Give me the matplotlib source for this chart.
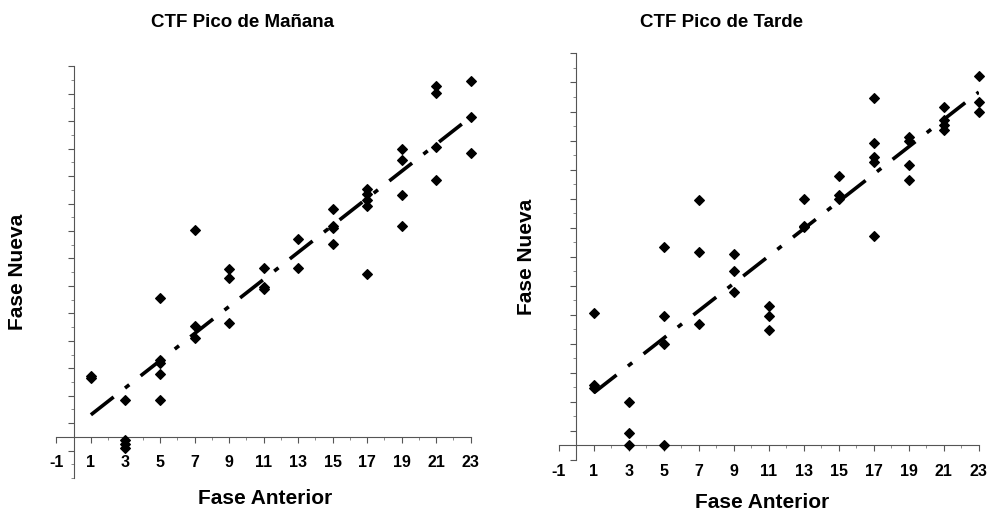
import numpy as np
import matplotlib.pyplot as plt
from matplotlib.ticker import MultipleLocator

plt.rcParams['font.family'] = ['Liberation Sans', 'DejaVu Sans']
plt.rcParams['font.weight'] = 'bold'

# Fase anterior (x) y fase nueva (y) para cada pico
x_manana = [1, 1, 3, 3, 3, 3, 5, 5, 5, 5, 5, 7, 7, 7, 9, 9, 9, 11, 11, 11,
            13, 13, 15, 15, 15, 15, 17, 17, 17, 17, 17, 19, 19, 19, 19,
            21, 21, 21, 21, 23, 23, 23]
y_manana = [4.4, 4.3, 2.65, -0.2, -0.5, -0.8, 10.15, 5.6, 5.4, 4.6, 2.65,
            15.1, 8.1, 7.2, 12.2, 11.55, 8.3, 12.3, 10.95, 10.75,
            14.4, 12.3, 16.6, 15.4, 15.2, 14.05, 18.05, 17.7, 17.25, 16.8, 11.9,
            20.95, 20.2, 17.6, 15.4, 25.55, 25.05, 21.15, 18.75, 25.95, 23.3, 20.65]

x_tarde = [1, 1, 1, 3, 3, 3, 5, 5, 5, 5, 7, 7, 7, 9, 9, 9, 11, 11, 11,
           13, 13, 13, 15, 15, 15, 17, 17, 17, 17, 17, 19, 19, 19, 19,
           21, 21, 21, 21, 23, 23, 23]
y_tarde = [9.1, 4.17, 3.95, 2.98, 0.85, 0.05, 13.65, 8.9, 7.0, 0.0,
           16.9, 13.3, 8.4, 13.2, 12.0, 10.55, 9.6, 8.9, 7.95,
           17.0, 15.15, 15.05, 18.55, 17.25, 17.0, 23.9, 20.8, 19.85, 19.5, 14.4,
           21.25, 21.0, 19.3, 18.3, 23.3, 22.4, 22.05, 21.7, 25.45, 23.65, 22.95]

xticks = list(range(-1, 24, 2))

fig = plt.figure(figsize=(9.89, 5.12), dpi=100)


def panel(rect, xs, ys, ylo):
    ax = fig.add_axes(rect)
    ax.scatter(xs, ys, marker='D', s=24, color='black', zorder=3, clip_on=False)
    # linea de tendencia lineal
    m, b = np.polyfit(xs, ys, 1)
    xl = np.array([1, 23])
    ax.plot(xl, m * xl + b, color='black', lw=2.6, dashes=(8, 4, 1.5, 4), zorder=2)
    ax.set_xlim(-1, 23)
    ax.set_ylim(ylo, 27)
    for s in ['top', 'right']:
        ax.spines[s].set_visible(False)
    ax.spines['left'].set_position(('data', 0))
    ax.spines['bottom'].set_position(('data', 0))
    for s in ['left', 'bottom']:
        ax.spines[s].set_color('#555555')
        ax.spines[s].set_linewidth(0.8)
    ax.set_xticks(xticks)
    ax.set_xticklabels([str(t) for t in xticks], fontsize=11.5, fontweight='bold')
    ax.set_yticks(list(range(-1, 28, 2)))
    ax.set_yticklabels([])
    ax.xaxis.set_minor_locator(MultipleLocator(1))
    ax.yaxis.set_minor_locator(MultipleLocator(1))
    ax.tick_params(which='major', length=4, width=0.8, color='#555555', pad=9)
    ax.tick_params(which='minor', length=2, width=0.6, color='#777777')
    return ax


panel([0.057, 0.0664, 0.419, 0.804], x_manana, y_manana, -3)
panel([0.565, 0.1016, 0.4247, 0.794], x_tarde, y_tarde, -1)

fig.text(0.245, 0.957, 'CTF Pico de Mañana', ha='center', va='center', fontsize=13.5, fontweight='bold')
fig.text(0.730, 0.957, 'CTF Pico de Tarde', ha='center', va='center', fontsize=13.5, fontweight='bold')
fig.text(0.018, 0.469, 'Fase Nueva', rotation=90, ha='center', va='center', fontsize=15, fontweight='bold')
fig.text(0.532, 0.499, 'Fase Nueva', rotation=90, ha='center', va='center', fontsize=15, fontweight='bold')
fig.text(0.268, 1 - 498 / 512, 'Fase Anterior', ha='center', va='center', fontsize=15, fontweight='bold')
fig.text(0.771, 1 - 503 / 512, 'Fase Anterior', ha='center', va='center', fontsize=15, fontweight='bold')

fig.savefig('out.png', dpi=100)
